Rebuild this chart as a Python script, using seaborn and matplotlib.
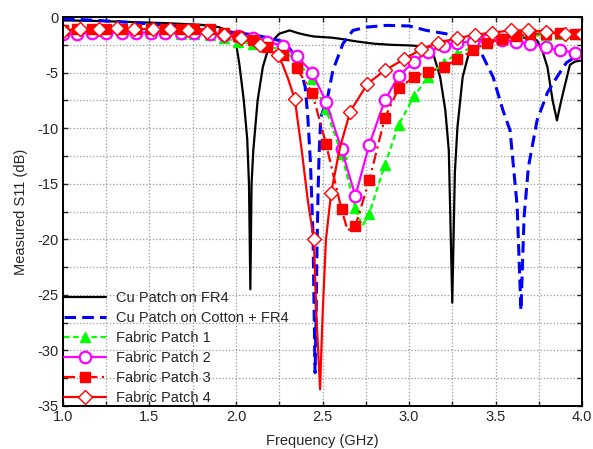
import numpy as np
import matplotlib
matplotlib.use("Agg")
import matplotlib.pyplot as plt
import seaborn as sns

# ---- data ----
# Cu Patch on FR4
cu_fr4_f = [1.00, 1.20, 1.40, 1.60, 1.80, 1.90, 1.95, 1.98, 2.00, 2.02, 2.045, 2.065, 2.075, 2.083,
            2.09, 2.10, 2.125, 2.155, 2.195, 2.25, 2.31, 2.36, 2.40, 2.45, 2.50, 2.55, 2.60, 2.70,
            2.80, 2.90, 3.00, 3.05, 3.10, 3.14, 3.18, 3.21, 3.23, 3.25, 3.265, 3.28, 3.31, 3.35,
            3.41, 3.47, 3.55, 3.62, 3.68, 3.74, 3.77, 3.80, 3.83, 3.855, 3.88, 3.90, 3.93, 3.96, 4.00]
cu_fr4_s = [-0.3, -0.35, -0.45, -0.55, -0.7, -0.9, -1.2, -1.6, -2.3, -4.3, -7.5, -11.0, -15.0, -24.5,
            -15.0, -12.0, -7.5, -4.5, -2.4, -1.5, -1.2, -1.45, -1.6, -1.75, -1.8, -1.85, -1.95, -2.2,
            -2.4, -2.5, -2.55, -2.6, -2.8, -3.3, -5.4, -8.4, -12.0, -25.7, -14.0, -9.9, -5.4, -3.0,
            -2.1, -1.8, -1.7, -1.7, -1.9, -2.1, -3.0, -4.5, -7.5, -9.3, -7.5, -6.2, -4.3, -4.0, -3.9]

# Cu Patch on Cotton + FR4
cu_cot_f = [1.00, 1.20, 1.40, 1.60, 1.80, 2.00, 2.10, 2.20, 2.27, 2.30, 2.34, 2.37, 2.40, 2.415,
            2.43, 2.445, 2.457, 2.462, 2.468, 2.474, 2.48, 2.49, 2.526, 2.56, 2.618, 2.676, 2.757,
            2.87, 3.00, 3.10, 3.25, 3.33, 3.41, 3.486, 3.543, 3.584, 3.625, 3.647, 3.665, 3.69,
            3.74, 3.80, 3.855, 3.91, 4.00]
cu_cot_s = [-0.15, -0.3, -0.5, -0.75, -1.05, -1.4, -1.6, -1.9, -2.2, -2.6, -3.5, -4.5, -6.3, -9.0,
            -13.0, -19.5, -32.0, -28.0, -21.0, -16.0, -12.5, -9.0, -7.5, -4.8, -2.4, -1.2, -0.9,
            -0.75, -0.8, -1.2, -1.6, -2.2, -3.0, -5.4, -8.4, -10.2, -17.0, -26.4, -18.0, -13.5,
            -9.3, -6.8, -5.4, -4.1, -3.2]

# marker frequencies of Fabric Patch 1-3
fab_grid = [1.00, 1.08, 1.17, 1.25, 1.34, 1.42, 1.51, 1.59, 1.68, 1.76, 1.85, 1.93, 2.01, 2.10,
            2.18, 2.27, 2.35, 2.44, 2.52, 2.61, 2.69, 2.77, 2.86, 2.94, 3.03, 3.11, 3.20, 3.28,
            3.37, 3.45, 3.54, 3.62, 3.70, 3.79, 3.87, 3.96]

# Fabric Patch 1
fp1_s = [-1.3, -1.3, -1.3, -1.3, -1.35, -1.35, -1.4, -1.4, -1.5, -1.5, -1.6, -1.9, -2.2, -2.4,
         -2.6, -3.0, -3.9, -5.6, -8.3, -12.3, -17.2, -17.7, -13.3, -9.7, -7.1, -5.4, -4.1, -3.3,
         -2.7, -2.3, -2.0, -1.8, -1.7, -1.6, -1.5, -1.5]
fp1_extra_f = [2.73, 4.00]
fp1_extra_s = [-18.8, -1.5]

# Fabric Patch 2
fp2_s = [-1.5, -1.5, -1.4, -1.4, -1.4, -1.4, -1.4, -1.4, -1.4, -1.4, -1.5, -1.6, -1.7, -1.9,
         -2.2, -2.6, -3.5, -5.0, -7.6, -11.9, -16.1, -11.5, -7.5, -5.3, -4.0, -3.1, -2.6, -2.3,
         -2.2, -2.1, -2.1, -2.2, -2.4, -2.7, -3.0, -3.2]
fp2_extra_f = [4.00]
fp2_extra_s = [-3.2]

# Fabric Patch 3
fp3_s = [-1.2, -1.1, -1.1, -1.1, -1.1, -1.1, -1.1, -1.1, -1.1, -1.1, -1.1, -1.4, -1.7, -2.1,
         -2.7, -3.4, -4.6, -6.8, -11.4, -17.3, -18.8, -14.7, -9.1, -6.4, -5.4, -4.9, -4.5, -3.8,
         -3.0, -2.3, -2.0, -1.7, -1.5, -1.5, -1.4, -1.5]
fp3_extra_f = [2.645, 4.00]
fp3_extra_s = [-19.2, -1.4]

# Fabric Patch 4
fp4_f = [1.00, 1.10, 1.21, 1.31, 1.41, 1.52, 1.62, 1.72, 1.83, 1.93, 2.03, 2.14, 2.24, 2.34,
         2.45, 2.55, 2.66, 2.76, 2.86, 2.97, 3.07, 3.17, 3.28, 3.38, 3.48, 3.59, 3.69, 3.79,
         3.90, 4.00]
fp4_s = [-1.25, -1.1, -1.1, -1.0, -1.1, -1.05, -1.1, -1.2, -1.35, -1.6, -1.9, -2.5, -3.4, -7.4,
         -20.0, -15.8, -8.5, -6.0, -4.8, -3.8, -2.9, -2.3, -1.9, -1.6, -1.4, -1.2, -1.2, -1.3,
         -1.5, -1.5]
fp4_extra_f = [2.27, 2.30, 2.38, 2.415, 2.465, 2.486, 2.50, 2.52, 2.60]
fp4_extra_s = [-4.3, -5.5, -12.0, -16.5, -27.0, -33.5, -27.0, -20.0, -11.8]

x_ticks = [1.0, 1.5, 2.0, 2.5, 3.0, 3.5, 4.0]
y_ticks = [0, -5, -10, -15, -20, -25, -30, -35]

# ---- style ----
sns.set_style("ticks")
plt.rcParams['font.family'] = ['Liberation Sans', 'DejaVu Sans']

fig = plt.figure(figsize=(5.93, 4.49), dpi=100)
ax = fig.add_axes([0.1062, 0.0958, 0.8753, 0.8662])


def trace(ax, f_mark, s_mark, f_extra, s_extra, **kw):
    f = np.array(list(f_mark) + list(f_extra))
    s = np.array(list(s_mark) + list(s_extra))
    order = np.argsort(f, kind="stable")
    mask = np.r_[np.ones(len(f_mark), bool), np.zeros(len(f_extra), bool)][order]
    sns.lineplot(x=f[order], y=s[order], ax=ax, sort=False, errorbar=None,
                 markevery=[bool(m) for m in mask], **kw)


sns.lineplot(x=cu_fr4_f, y=cu_fr4_s, ax=ax, sort=False, errorbar=None,
             color="black", linewidth=1.6, label="Cu Patch on FR4")
sns.lineplot(x=cu_cot_f, y=cu_cot_s, ax=ax, sort=False, errorbar=None,
             color="#0000FF", linewidth=2.2, linestyle=(0, (3.8, 2)),
             label="Cu Patch on Cotton + FR4")
trace(ax, fab_grid, fp1_s, fp1_extra_f, fp1_extra_s, color="#00FF00", linewidth=1.6,
      linestyle=(0, (2.5, 1.6)), marker="^", markersize=7, markerfacecolor="#00FF00",
      markeredgecolor="#00FF00", markeredgewidth=1, label="Fabric Patch 1")
trace(ax, fab_grid, fp2_s, fp2_extra_f, fp2_extra_s, color="#FF00FF", linewidth=1.6,
      marker="o", markersize=8.3, markerfacecolor="white", markeredgecolor="#FF00FF",
      markeredgewidth=1.6, label="Fabric Patch 2")
trace(ax, fab_grid, fp3_s, fp3_extra_f, fp3_extra_s, color="#FF0000", linewidth=1.6,
      linestyle=(0, (5, 2, 1, 2)), marker="s", markersize=6.5, markerfacecolor="#FF0000",
      markeredgecolor="#FF0000", markeredgewidth=1, label="Fabric Patch 3")
trace(ax, fp4_f, fp4_s, fp4_extra_f, fp4_extra_s, color="#FF0000", linewidth=1.6,
      marker="D", markersize=6.8, markerfacecolor="white", markeredgecolor="#FF0000",
      markeredgewidth=1, label="Fabric Patch 4")

ax.set_xlim(1.0, 4.0)
ax.set_ylim(-35, 0)
ax.set_xticks(x_ticks)
ax.set_xticklabels([f"{v:.1f}" for v in x_ticks])
ax.set_yticks(y_ticks)
ax.set_yticklabels([str(v) for v in y_ticks])
ax.set_xticks([1.25, 1.75, 2.25, 2.75, 3.25, 3.75], minor=True)
ax.set_yticks([-2.5, -7.5, -12.5, -17.5, -22.5, -27.5, -32.5], minor=True)
ax.grid(which="both", linestyle=":", color="#9a9a9a", linewidth=0.9)
ax.tick_params(which="both", direction="in", top=True, right=True, labelsize=10.5,
               length=3.5, width=1, pad=3)
for sp in ax.spines.values():
    sp.set_linewidth(1.4)
    sp.set_color("black")

ax.set_xlabel("Frequency (GHz)", fontsize=10.5, labelpad=7)
ax.set_ylabel("Measured S11 (dB)", fontsize=10.5, labelpad=7)

ax.legend(loc="lower left", frameon=False, fontsize=10.5, handlelength=2.9,
          handletextpad=0.7, labelspacing=0.42, borderaxespad=0.0, borderpad=0.05)

fig.savefig("out.png", dpi=100)
